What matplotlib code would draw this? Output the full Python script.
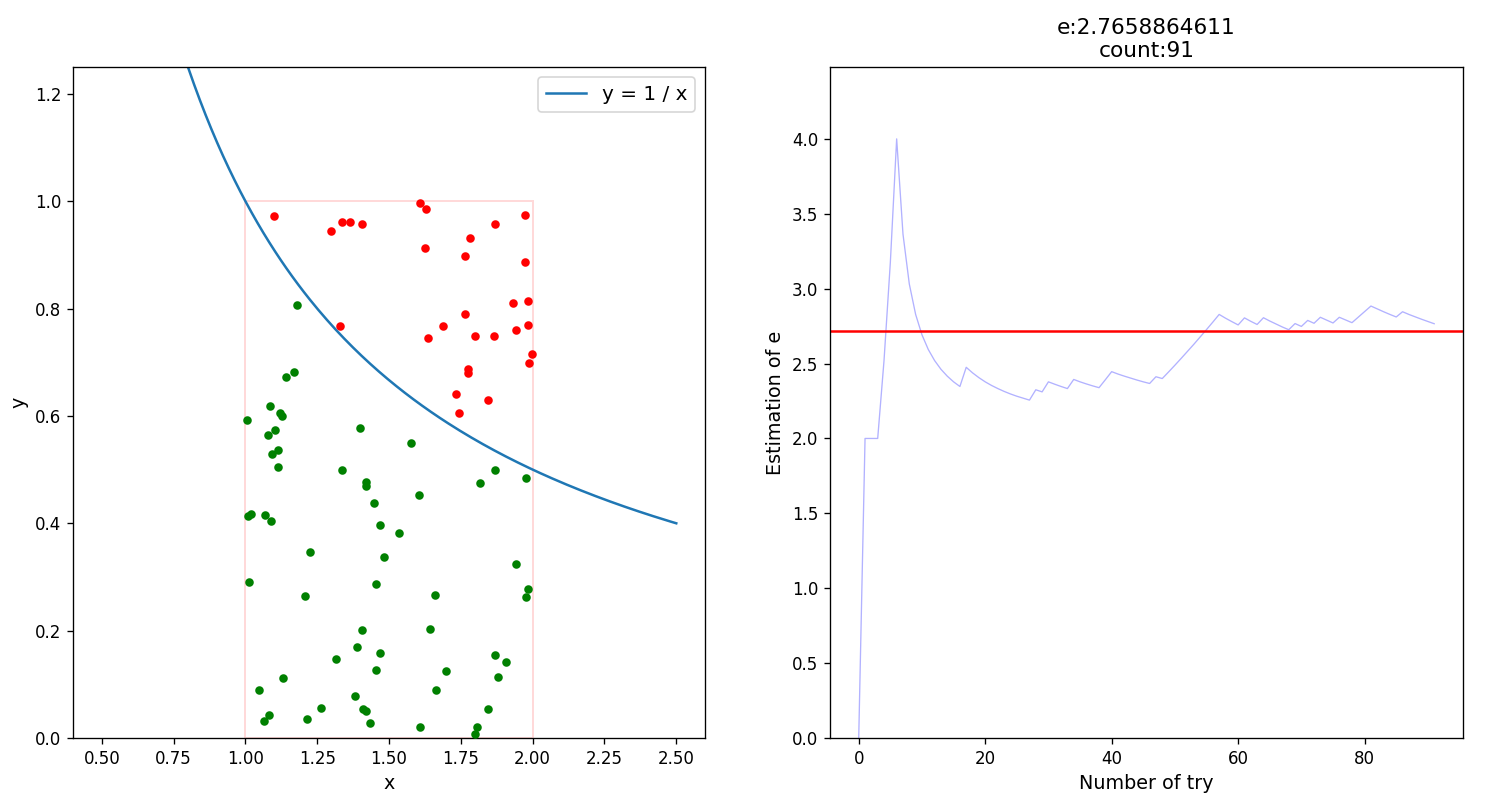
import numpy as np
import matplotlib
matplotlib.use('Agg')
import matplotlib.pyplot as plt
import matplotlib.patches as patches

# puntos por encima de 1/x (rojos)
red_x = [1.098, 1.298, 1.337, 1.363, 1.405, 1.328, 1.609, 1.630, 1.973, 1.869,
         1.783, 1.626, 1.766, 1.972, 1.933, 1.983, 1.766, 1.689, 1.942, 1.983,
         1.635, 1.800, 1.864, 1.997, 1.986, 1.776, 1.776, 1.733, 1.844, 1.742]
red_y = [0.973, 0.944, 0.962, 0.962, 0.957, 0.768, 0.996, 0.985, 0.975, 0.957,
         0.931, 0.913, 0.897, 0.887, 0.811, 0.814, 0.790, 0.768, 0.760, 0.770,
         0.746, 0.749, 0.749, 0.715, 0.699, 0.688, 0.680, 0.641, 0.629, 0.605]

# puntos por debajo de 1/x (verdes)
green_x = [1.179, 1.170, 1.141, 1.087, 1.121, 1.128, 1.005, 1.103, 1.078, 1.400,
           1.112, 1.092, 1.576, 1.112, 1.336, 1.420, 1.420, 1.449, 1.009, 1.020,
           1.069, 1.089, 1.469, 1.226, 1.483, 1.014, 1.453, 1.209, 1.869, 1.816,
           1.977, 1.605, 1.533, 1.943, 1.983, 1.978, 1.659, 1.405, 1.390, 1.469,
           1.317, 1.454, 1.131, 1.048, 1.380, 1.264, 1.408, 1.421, 1.083, 1.064,
           1.214, 1.435, 1.643, 1.869, 1.908, 1.698, 1.880, 1.663, 1.845, 1.609,
           1.805, 1.800]
green_y = [0.806, 0.681, 0.673, 0.619, 0.605, 0.600, 0.593, 0.574, 0.564, 0.577,
           0.537, 0.530, 0.549, 0.505, 0.499, 0.477, 0.470, 0.438, 0.414, 0.417,
           0.416, 0.404, 0.397, 0.347, 0.337, 0.290, 0.287, 0.264, 0.499, 0.475,
           0.485, 0.452, 0.381, 0.325, 0.278, 0.263, 0.266, 0.202, 0.170, 0.158,
           0.147, 0.126, 0.111, 0.090, 0.079, 0.056, 0.054, 0.051, 0.043, 0.032,
           0.035, 0.028, 0.204, 0.155, 0.142, 0.124, 0.114, 0.090, 0.054, 0.020,
           0.020, 0.008]

# estimacion de e en cada intento
estimacion = [0.0, 2.0, 2.0, 2.0, 2.520, 3.175, 4.0, 3.364, 3.031, 2.828,
              2.692, 2.594, 2.520, 2.462, 2.416, 2.378, 2.347, 2.475, 2.438, 2.406,
              2.378, 2.354, 2.333, 2.314, 2.297, 2.282, 2.269, 2.256, 2.325, 2.311,
              2.378, 2.362, 2.347, 2.333, 2.394, 2.378, 2.364, 2.351, 2.339, 2.392,
              2.446, 2.430, 2.416, 2.403, 2.390, 2.378, 2.367, 2.412, 2.400, 2.444,
              2.489, 2.535, 2.582, 2.629, 2.678, 2.727, 2.777, 2.828, 2.803, 2.780,
              2.758, 2.805, 2.782, 2.761, 2.806, 2.784, 2.764, 2.744, 2.726, 2.767,
              2.748, 2.788, 2.769, 2.809, 2.790, 2.771, 2.809, 2.791, 2.773, 2.810,
              2.847, 2.884, 2.865, 2.846, 2.828, 2.811, 2.846, 2.828, 2.812, 2.796,
              2.781, 2.766]
e_final = '2.7658864611'
count = 91

fig = plt.figure(figsize=(12.5, 6.7667), dpi=120)
ax1 = fig.add_axes([0.0487, 0.0911, 0.4213, 0.8264])
ax2 = fig.add_axes([0.5533, 0.0911, 0.422, 0.8264])

# grafica izquierda
xs = np.linspace(0.5, 2.5, 200)
ax1.plot(xs, 1 / xs, label='y = 1 / x')
ax1.add_patch(patches.Rectangle((1, 0), 1, 1, fill=False, edgecolor='red', alpha=0.15, lw=1.2))
ax1.scatter(red_x, red_y, color='r', s=17, zorder=3)
ax1.scatter(green_x, green_y, color='g', s=17, zorder=3)
ax1.set_xlim(0.4, 2.6)
ax1.set_ylim(0, 1.25)
ax1.set_xlabel('x', fontsize=11.5)
ax1.set_ylabel('y', fontsize=11.5)
ax1.legend(loc='upper right', fontsize=12)

# grafica derecha
ax2.plot(range(len(estimacion)), estimacion, color='blue', alpha=0.3, lw=0.8)
ax2.axhline(np.e, color='red', lw=1.5)
ax2.set_ylim(0, 4.48)
ax2.set_xlabel('Number of try', fontsize=11.5)
ax2.set_ylabel('Estimation of e', fontsize=11.5)
ax2.set_title('e:' + e_final + '\ncount:' + str(count), fontsize=13)

fig.savefig('out.png')
